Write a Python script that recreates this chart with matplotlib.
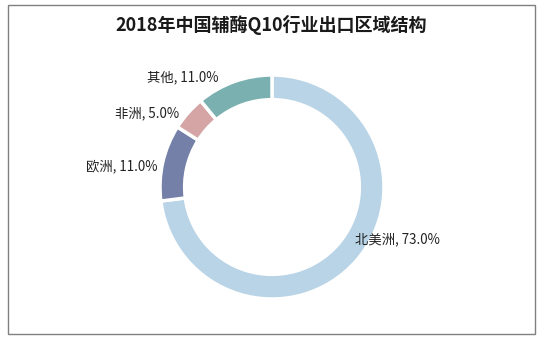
import numpy as np
import matplotlib
matplotlib.use("Agg")
import matplotlib.pyplot as plt
from matplotlib.patches import Rectangle

plt.rcParams['font.family'] = ['Noto Sans CJK SC', 'DejaVu Sans']

title = "2018年中国辅酶Q10行业出口区域结构"
regions = ["北美洲", "欧洲", "非洲", "其他"]
shares = [73.0, 11.0, 5.0, 11.0]
colors = ["#b8d4e6", "#7480a7", "#d5a5a5", "#7ab0b0"]

W, H = 541, 340
fig = plt.figure(figsize=(W / 100, H / 100), dpi=100)

# outer frame
fig.patches.append(Rectangle((8 / W, 6 / H), 527 / W, 329 / H, transform=fig.transFigure,
                             fill=False, edgecolor="#808080", linewidth=1.0))

# donut axes: centre (272, 187) px from top, outer radius 112 px
cx, cy, R = 272, H - 187, 112
ax = fig.add_axes([(cx - R) / W, (cy - R) / H, 2 * R / W, 2 * R / H])
wedges, _ = ax.pie(shares, colors=colors, startangle=90, counterclock=False,
                   radius=1.0, wedgeprops=dict(width=0.22, edgecolor="white", linewidth=2.5))
ax.set_xlim(-1, 1)
ax.set_ylim(-1, 1)
ax.axis("off")

# label placement per wedge: (radius along mid-angle, horizontal shift, vertical shift)
label_pos = [(0.86, 0.1, 0.1), (1.05, 0.0, -0.04), (1.08, -0.02, -0.06), (1.06, -0.12, -0.02)]
for w, name, val, (r, dx, dy) in zip(wedges, regions, shares, label_pos):
    mid = np.deg2rad((w.theta1 + w.theta2) / 2)
    x, y = r * np.cos(mid) + dx, r * np.sin(mid) + dy
    ha = "left" if np.cos(mid) > 0 else "right"
    ax.text(x, y, f"{name}, {val:.1f}%", ha=ha, va="center", fontsize=9.6, color="#222222")

fig.text(271.5 / W, 1 - 25 / H, title, ha="center", va="center", fontsize=13,
         fontweight="bold", color="#1a1a1a")

fig.savefig("out.png", dpi=100)
